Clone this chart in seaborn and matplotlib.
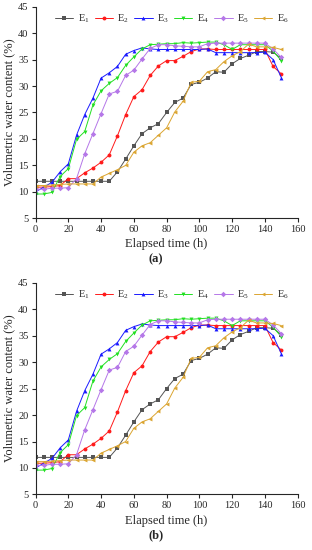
import numpy as np
import pandas as pd
import seaborn as sns
import matplotlib.pyplot as plt

sns.set_style("ticks")
plt.rcParams['font.family'] = ['Liberation Serif', 'DejaVu Serif']
plt.rcParams['mathtext.default'] = 'regular'

# elapsed time (h)
time_h = list(range(0, 155, 5))

# volumetric water content (%) per sensor
e1 = [12.0, 12.0, 12.0, 12.0, 12.0, 12.0, 12.0, 12.0, 12.0, 12.0,
      13.8, 16.2, 18.7, 21.0, 22.1, 22.9, 25.0, 26.9, 27.7, 30.3,
      30.7, 31.5, 32.7, 32.6, 34.2, 35.2, 35.8, 36.5, 36.5, 36.4, 35.2]
e2 = [10.9, 10.9, 11.0, 11.2, 12.5, 12.5, 13.6, 14.5, 15.6, 17.0,
      20.6, 24.6, 28.0, 29.3, 32.0, 33.8, 34.8, 34.8, 35.6, 36.5,
      37.0, 37.0, 36.9, 36.9, 36.9, 36.9, 36.9, 36.9, 36.9, 33.7, 32.3]
e3 = [10.0, 10.9, 11.8, 13.8, 15.3, 20.7, 24.6, 27.7, 31.5, 32.5,
      33.7, 36.0, 36.7, 37.2, 37.0, 36.9, 36.9, 36.9, 36.9, 36.9,
      36.9, 37.0, 36.3, 36.3, 36.3, 36.3, 36.3, 36.3, 36.4, 35.0, 31.6]
e4 = [9.6, 9.6, 9.9, 12.9, 14.4, 19.9, 21.4, 26.4, 29.1, 30.5,
      31.6, 33.9, 35.5, 37.0, 37.8, 37.9, 38.0, 38.0, 38.2, 38.1,
      38.2, 38.3, 38.3, 37.8, 36.9, 37.8, 37.8, 37.8, 37.8, 36.6, 34.8]
e5 = [10.5, 10.5, 10.7, 10.7, 10.8, 12.5, 17.2, 21.0, 24.8, 28.5,
      29.0, 32.0, 33.0, 35.1, 37.1, 37.8, 37.8, 37.6, 37.5, 37.4,
      37.4, 38.0, 38.1, 38.1, 38.1, 38.1, 38.1, 38.1, 38.1, 37.0, 35.4]
e6 = [11.2, 11.2, 11.3, 11.4, 11.5, 11.5, 11.5, 11.5, 12.8, 13.5,
      14.2, 15.0, 17.5, 18.7, 19.3, 20.7, 22.1, 25.1, 27.1, 30.7,
      30.9, 32.7, 33.1, 34.6, 35.7, 36.5, 37.9, 37.4, 37.4, 37.3, 36.9]

series_names = ['E$_1$', 'E$_2$', 'E$_3$', 'E$_4$', 'E$_5$', 'E$_6$']
series_vals = [e1, e2, e3, e4, e5, e6]

df = pd.concat([
    pd.DataFrame({'time': time_h, 'vwc': v, 'sensor': n})
    for n, v in zip(series_names, series_vals)
])

palette = dict(zip(series_names, ['#555555', '#ff1a1a', '#1a1aff', '#22e022', '#b577e8', '#dba531']))
markers = dict(zip(series_names, ['s', 'o', '^', 'v', 'D', '<']))

fig = plt.figure(figsize=(3.12, 5.5), dpi=100)
ax_a = fig.add_axes([0.114, 0.603, 0.84, 0.385])
ax_b = fig.add_axes([0.114, 0.101, 0.84, 0.385])

for ax, tag, ypos in [(ax_a, '(a)', 0.518), (ax_b, '(b)', 0.015)]:
    sns.lineplot(data=df, x='time', y='vwc', hue='sensor', style='sensor',
                 palette=palette, markers=markers, dashes=False,
                 linewidth=0.7, markersize=2.8, markeredgewidth=0, ax=ax)
    ax.set_xlim(0, 160)
    ax.set_ylim(5, 45)
    ax.set_xticks(range(0, 161, 20))
    ax.set_yticks(range(5, 46, 5))
    ax.tick_params(labelsize=7.5, length=3, width=0.8, direction='out', pad=2)
    sns.despine(ax=ax)
    for sp in ax.spines.values():
        sp.set_linewidth(0.8)
    ax.set_xlabel("Elapsed time (h)", fontsize=9, labelpad=3)
    ax.set_ylabel("Volumetric water content (%)", fontsize=9, labelpad=2)
    ax.legend(ncol=6, frameon=False, fontsize=7.5, loc='upper center',
              bbox_to_anchor=(0.52, 1.0), handlelength=1.75, handletextpad=0.45,
              columnspacing=0.5, borderaxespad=0.2)
    fig.text(0.5, ypos, tag, ha='center', va='bottom', fontsize=9, fontweight='bold')

fig.savefig("out.png", dpi=100)
